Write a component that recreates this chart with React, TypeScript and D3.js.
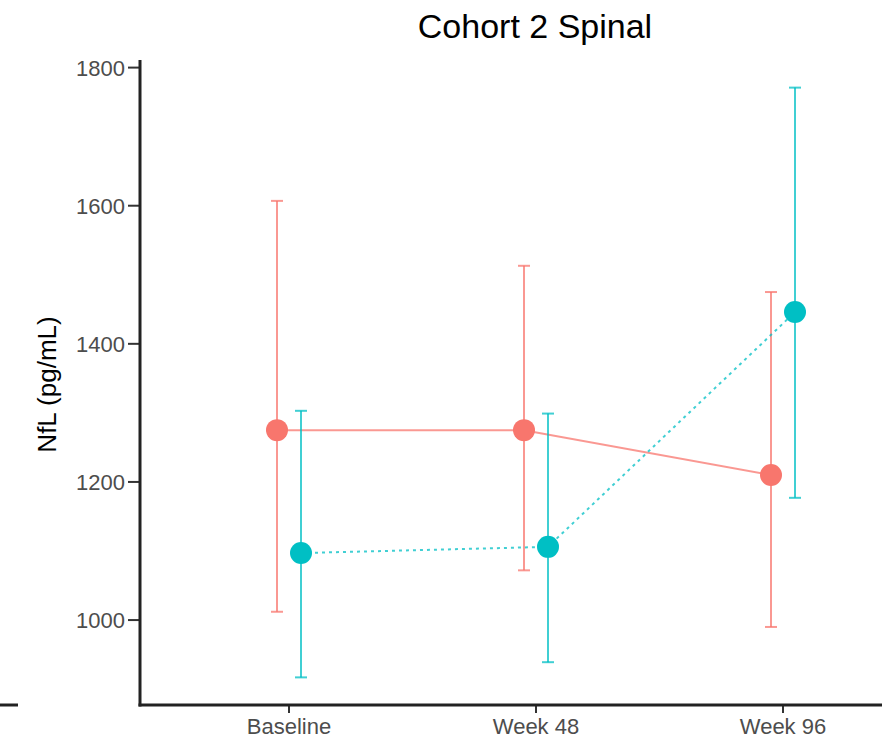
import React from "react";
import * as d3 from "d3";

// Visits on the x axis and the two treatment groups
const visits = ["Baseline", "Week 48", "Week 96"];
const groups = ["A", "B"];
const groupColors = ["#F8766D", "#00BFC4"];

// Mean NfL per visit with lower/upper error limits
const meanA = [1275, 1275, 1210];
const lowA = [1012, 1072, 990];
const highA = [1607, 1513, 1475];

const meanB = [1097, 1106, 1446];
const lowB = [917, 939, 1177];
const highB = [1303, 1299, 1771];

const yTicks = [1000, 1200, 1400, 1600, 1800];

const W = 882;
const H = 740;
const left = 140;
const top = 60;
const bottom = 705;

export default function App() {
  const x = d3.scalePoint<string>().domain(visits).range([289, 783]);
  const y = d3.scaleLinear().domain([877, 1811]).range([bottom, top]);
  const dodge = d3.scalePoint<string>().domain(groups).range([-12, 12]);

  const series = [
    { key: "A", mean: meanA, low: lowA, high: highA, dash: undefined },
    { key: "B", mean: meanB, low: lowB, high: highB, dash: "3,4" },
  ];

  return (
    <svg
      width={W}
      height={H}
      style={{ position: "absolute", left: 0, top: 0, background: "#fff" }}
      fontFamily="'Liberation Sans', Arial, sans-serif"
    >
      {/* title */}
      <text x={535} y={38} textAnchor="middle" fontSize={34} fill="#000">
        Cohort 2 Spinal
      </text>

      {/* y axis title */}
      <text
        transform={`translate(56,${(top + bottom) / 2 + 2}) rotate(-90)`}
        textAnchor="middle"
        fontSize={26}
        fill="#000"
      >
        NfL (pg/mL)
      </text>

      {/* y ticks */}
      {yTicks.map((t) => (
        <g key={t}>
          <line x1={128} x2={140} y1={y(t)} y2={y(t)} stroke="#333" strokeWidth={2} />
          <text x={125} y={y(t) + 8} textAnchor="end" fontSize={22} fill="#4D4D4D">
            {t}
          </text>
        </g>
      ))}

      {/* x ticks */}
      {visits.map((v) => (
        <g key={v}>
          <line x1={x(v)} x2={x(v)} y1={bottom} y2={bottom + 8} stroke="#333" strokeWidth={2} />
          <text x={x(v)} y={734} textAnchor="middle" fontSize={22} fill="#4D4D4D">
            {v}
          </text>
        </g>
      ))}

      {/* series */}
      {series.map((s, gi) => {
        const color = groupColors[gi];
        const dx = dodge(s.key)!;
        const path = d3
          .line<number>()
          .x((_, i) => x(visits[i])! + dx)
          .y((d) => y(d))(s.mean);
        return (
          <g key={s.key}>
            {s.mean.map((m, i) => {
              const cx = x(visits[i])! + dx;
              return (
                <g key={i} stroke={color} strokeOpacity={0.75} strokeWidth={2}>
                  <line x1={cx} x2={cx} y1={y(s.low[i])} y2={y(s.high[i])} />
                  <line x1={cx - 6} x2={cx + 6} y1={y(s.low[i])} y2={y(s.low[i])} />
                  <line x1={cx - 6} x2={cx + 6} y1={y(s.high[i])} y2={y(s.high[i])} />
                </g>
              );
            })}
            <path
              d={path ?? ""}
              fill="none"
              stroke={color}
              strokeOpacity={0.75}
              strokeWidth={2}
              strokeDasharray={s.dash}
            />
            {s.mean.map((m, i) => (
              <circle key={i} cx={x(visits[i])! + dx} cy={y(m)} r={11} fill={color} />
            ))}
          </g>
        );
      })}

      {/* axis lines */}
      <line x1={left} x2={left} y1={top} y2={bottom + 1.5} stroke="#222" strokeWidth={3} />
      <line x1={left - 1.5} x2={W} y1={bottom} y2={bottom} stroke="#222" strokeWidth={3} />
      <line x1={0} x2={18} y1={bottom} y2={bottom} stroke="#222" strokeWidth={3} />
    </svg>
  );
}
